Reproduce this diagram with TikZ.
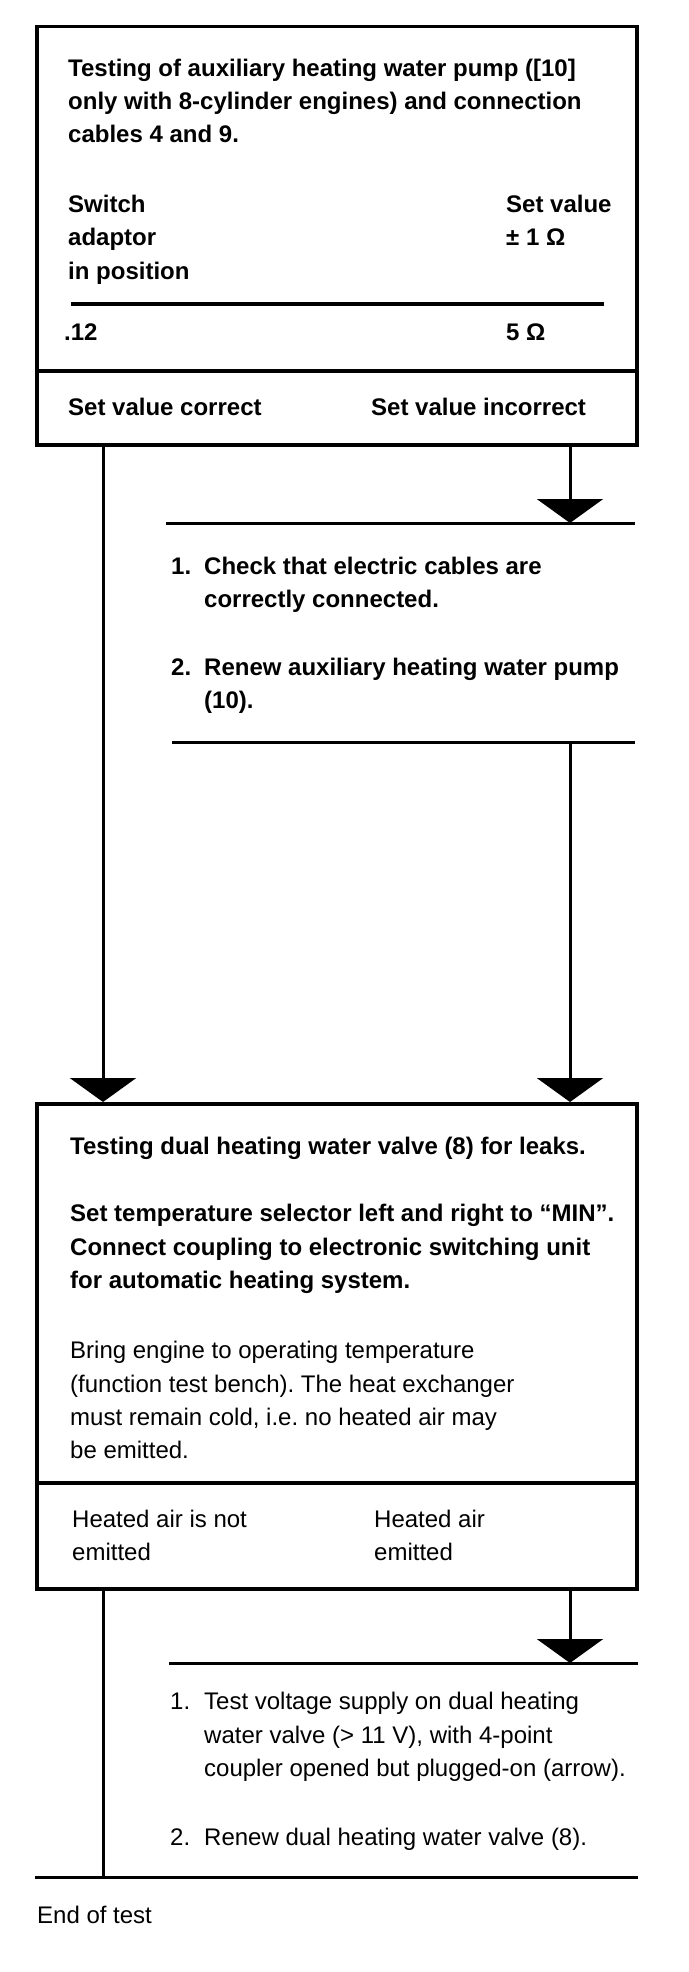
\documentclass[tikz,border=0pt]{standalone}
\usepackage{fontspec}
\setmainfont{Liberation Sans}
\usetikzlibrary{arrows.meta}
\frenchspacing
\begin{document}
\begin{tikzpicture}[x=1pt,y=-1pt,
  txt/.style={anchor=base west, inner sep=0pt, font=\fontsize{24}{33}\selectfont},
  btxt/.style={anchor=base west, inner sep=0pt, font=\fontsize{24}{33}\selectfont\bfseries},
  frame/.style={draw, line width=3.5pt, inner sep=0pt, anchor=north west},
  sep/.style={line width=3.5pt},
  hline/.style={line width=3pt},
  flow/.style={line width=3pt, -{Triangle[width=66pt,length=24pt]}},
  plainflow/.style={line width=3pt}]
\useasboundingbox (0,0) rectangle (688,1972);

% ---------- box 1 ----------
\node[frame, minimum width=600pt, minimum height=418pt] (b1) at (35,25) {};
\coordinate (d1a) at (35,371);
\coordinate (d1b) at (635,371);
\draw[sep] (d1a) -- (d1b);
\coordinate (r1a) at (71,304);
\coordinate (r1b) at (604,304);
\draw[line width=4pt] (r1a) -- (r1b);

\node[btxt] (t1a) at (68,77) {Testing of auxiliary heating water pump ([10]};
\node[btxt] (t1b) at (68,110) {only with 8-cylinder engines) and connection};
\node[btxt] (t1c) at (68,143) {cables 4 and 9.};
\node[btxt] (sw1) at (68,212) {Switch};
\node[btxt] (sw2) at (68,245) {adaptor};
\node[btxt] (sw3) at (68,279) {in position};
\node[btxt] (sv1) at (506,212) {Set value};
\node[btxt] (sv2) at (506,245) {± 1 Ω};
\node[btxt] (pos) at (64,340) {.12};
\node[btxt] (val) at (506,340) {5 Ω};
\node[btxt] (ok1) at (68,415) {Set value correct};
\node[btxt] (nok1) at (371,415) {Set value incorrect};

% ---------- remedy 1 ----------
\coordinate (b1L) at (103,443);
\coordinate (b1R) at (570,443);
\coordinate (l1a) at (166,523);
\coordinate (l1b) at (635,523);
\coordinate (l1m) at (570,523);
\draw[hline] (l1a) -- (l1b);
\draw[flow] (b1R) -- (l1m);

\node[btxt] (n11) at (171,574) {1.};
\node[btxt] (s11a) at (204,574) {Check that electric cables are};
\node[btxt] (s11b) at (204,607) {correctly connected.};
\node[btxt] (n12) at (171,675) {2.};
\node[btxt] (s12a) at (204,675) {Renew auxiliary heating water pump};
\node[btxt] (s12b) at (204,708) {(10).};

\coordinate (l2a) at (172,742);
\coordinate (l2b) at (635,742);
\coordinate (l2m) at (570,742);
\draw[hline] (l2a) -- (l2b);

% ---------- box 2 ----------
\node[frame, minimum width=600pt, minimum height=485pt] (b2) at (35,1102) {};
\coordinate (b2L) at (103,1102);
\coordinate (b2R) at (570,1102);
\draw[flow] (b1L) -- (b2L);
\draw[flow] (l2m) -- (b2R);
\coordinate (d2a) at (35,1483);
\coordinate (d2b) at (635,1483);
\draw[sep] (d2a) -- (d2b);

\node[btxt] (t2a) at (70,1154) {Testing dual heating water valve (8) for leaks.};
\node[btxt] (t2b) at (70,1221) {Set temperature selector left and right to “MIN”.};
\node[btxt] (t2c) at (70,1255) {Connect coupling to electronic switching unit};
\node[btxt] (t2d) at (70,1288) {for automatic heating system.};
\node[txt] (t2e) at (70,1358) {Bring engine to operating temperature};
\node[txt] (t2f) at (70,1392) {(function test bench). The heat exchanger};
\node[txt] (t2g) at (70,1425) {must remain cold, i.e. no heated air may};
\node[txt] (t2h) at (70,1458) {be emitted.};
\node[txt] (ok2a) at (72,1527) {Heated air is not};
\node[txt] (ok2b) at (72,1560) {emitted};
\node[txt] (nok2a) at (374,1527) {Heated air};
\node[txt] (nok2b) at (374,1560) {emitted};

% ---------- remedy 2 ----------
\coordinate (b2bL) at (103,1587);
\coordinate (b2bR) at (570,1587);
\coordinate (l3a) at (169,1663);
\coordinate (l3b) at (638,1663);
\coordinate (l3m) at (570,1663);
\draw[hline] (l3a) -- (l3b);
\draw[flow] (b2bR) -- (l3m);

\node[txt] (n21) at (170,1709) {1.};
\node[txt] (s21a) at (204,1709) {Test voltage supply on dual heating};
\node[txt] (s21b) at (204,1743) {water valve (> 11 V), with 4-point};
\node[txt] (s21c) at (204,1776) {coupler opened but plugged-on (arrow).};
\node[txt] (n22) at (170,1845) {2.};
\node[txt] (s22a) at (204,1845) {Renew dual heating water valve (8).};

\coordinate (l4a) at (35,1877);
\coordinate (l4b) at (638,1877);
\coordinate (l4m) at (103,1877);
\draw[hline] (l4a) -- (l4b);
\draw[plainflow] (b2bL) -- (l4m);

\node[txt] (end) at (37,1923) {End of test};
\end{tikzpicture}
\end{document}
